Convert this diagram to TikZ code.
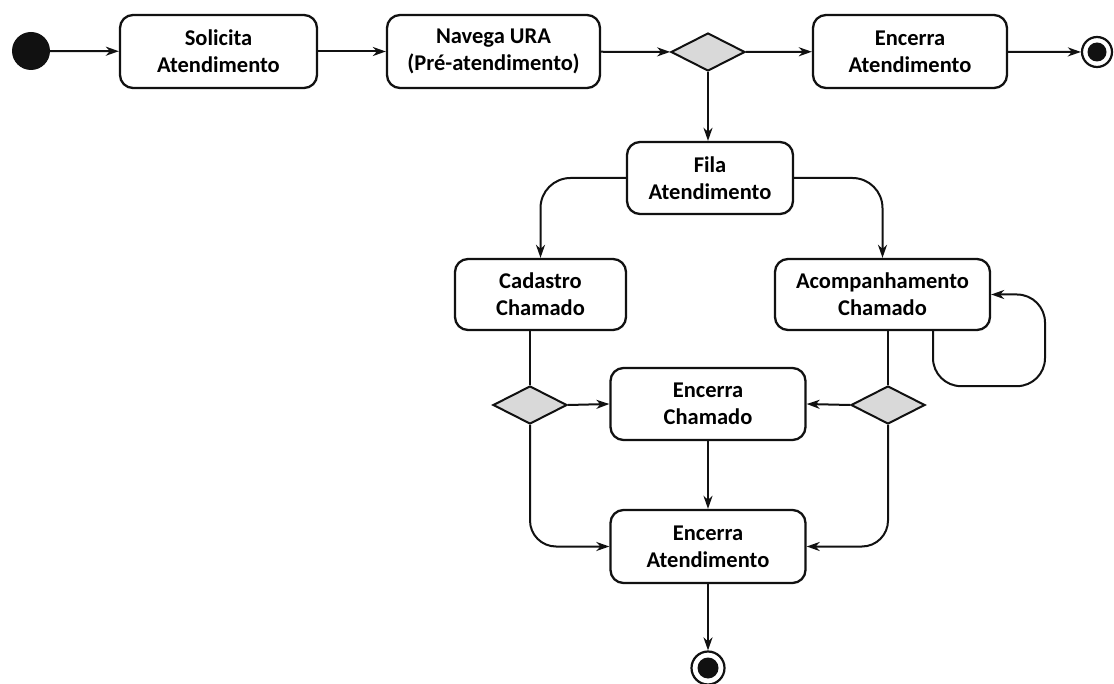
\documentclass[tikz,border=0pt]{standalone}
\usepackage{fontspec}
\setmainfont{Carlito}
\usetikzlibrary{shapes.geometric,arrows.meta}
\definecolor{decfill}{HTML}{D9D9D9}
\definecolor{ink}{HTML}{111111}
\tikzset{
  actbox/.style={draw=ink, line width=2.3pt, rounded corners=13pt, fill=white,
    align=center, inner sep=0pt,
    font=\fontsize{22.5}{27}\selectfont\bfseries},
  decision/.style={draw=ink, line width=2pt, fill=decfill, shape=diamond,
    inner sep=0pt, minimum width=74pt, minimum height=38pt},
  startdot/.style={circle, fill=ink, minimum size=38pt, inner sep=0pt},
  enddot/.style={circle, draw=ink, line width=2.2pt, fill=white, inner sep=0pt},
  flow/.style={draw=ink, line width=2pt,
    -{Stealth[length=13pt,width=9pt,inset=4pt]}},
  plainflow/.style={draw=ink, line width=2pt},
}
\begin{document}
\begin{tikzpicture}[x=1pt,y=-1pt]
  \fill[white] (0,0) rectangle (1114,684);
  \useasboundingbox (0,0) rectangle (1114,684);

  % top row
  \node[startdot] (init) at (31,51) {};
  \node[actbox, minimum width=197pt, minimum height=73pt] (solicita) at (218.5,51.5) {Solicita\\Atendimento};
  \node[actbox, minimum width=213pt, minimum height=73pt] (navega) at (493.5,51.5) {Navega URA\\(Pré-atendimento)};
  \node[decision] (d1) at (708,52) {};
  \node[actbox, minimum width=194pt, minimum height=73pt] (enctop) at (910,51.5) {Encerra\\Atendimento};
  \node[enddot, minimum size=30pt] (fintop) at (1097,52) {};
  \fill[ink] (fintop) circle (9.5pt);

  % middle
  \node[actbox, minimum width=166pt, minimum height=72pt] (fila) at (710,178) {Fila\\Atendimento};
  \node[actbox, minimum width=171pt, minimum height=71pt] (cad) at (540.5,294.5) {Cadastro\\Chamado};
  \node[actbox, minimum width=215pt, minimum height=71pt] (acomp) at (882.5,294.5) {Acompanhamento\\Chamado};
  \node[decision] (d2) at (530,405) {};
  \node[decision] (d3) at (888,405) {};
  \node[actbox, minimum width=195pt, minimum height=72pt] (ench) at (708,404) {Encerra\\Chamado};
  \node[actbox, minimum width=195pt, minimum height=73pt] (enca) at (708,546.5) {Encerra\\Atendimento};
  \node[enddot, minimum size=33pt] (finbot) at (708,668) {};
  \fill[ink] (finbot) circle (10.5pt);

  % connectors
  \draw[flow] (init) -- (solicita);
  \draw[flow] (solicita) -- (navega);
  \draw[flow] (navega) -- (d1);
  \draw[flow] (d1) -- (enctop);
  \draw[flow] (enctop) -- (fintop);
  \draw[flow] (d1.south) -- (d1.south |- fila.north);
  \draw[flow, rounded corners=30pt] (fila.west) -| (cad.north);
  \draw[flow, rounded corners=30pt] (fila.east) -| (acomp.north);
  \draw[flow, rounded corners=28pt] ([xshift=50.5pt]acomp.south) -- ++(0,55) -- ++(112,0) |- (acomp.east);
  \draw[plainflow] (d2.north |- cad.south) -- (d2.north);
  \draw[plainflow] (d3.north |- acomp.south) -- (d3.north);
  \draw[flow] (d2.east) -- (ench.west);
  \draw[flow] (d3.west) -- (ench.east);
  \draw[flow, rounded corners=26pt] (d2.south) |- (enca.west);
  \draw[flow, rounded corners=26pt] (d3.south) |- (enca.east);
  \draw[flow] (ench.south) -- (enca.north);
  \draw[flow] (enca.south) -- (finbot);
\end{tikzpicture}
\end{document}
